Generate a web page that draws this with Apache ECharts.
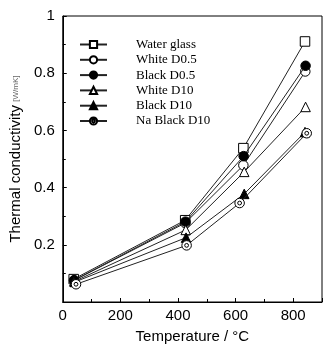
<!DOCTYPE html>
<html><head><meta charset="utf-8">
<script src="https://cdn.jsdelivr.net/npm/echarts@6/dist/echarts.min.js"></script>
<style>html,body{margin:0;padding:0;background:#fff}#c{width:323px;height:349px}</style>
</head><body><div id="c"></div>
<script>
var seriesNames = ['Water glass','White D0.5','Black D0.5','White D10','Black D10','Na Black D10'];
var temps = [
  [38, 425, 627, 841],
  [40, 425, 627, 842],
  [39, 426, 628, 843],
  [40, 427, 630, 843],
  [42, 428, 630, 841],
  [46, 430, 614, 847]
];
var conductivity = [
  [0.080, 0.286, 0.538, 0.911],
  [0.076, 0.276, 0.478, 0.806],
  [0.076, 0.281, 0.510, 0.826],
  [0.072, 0.252, 0.455, 0.682],
  [0.070, 0.225, 0.378, 0.594],
  [0.062, 0.198, 0.346, 0.590]
];
var xTicks = [0, 200, 400, 600, 800];
var yTicks = [0.2, 0.4, 0.6, 0.8, 1];

var dblCircle = 'path://M0,-5A5,5 0 1,1 0,5A5,5 0 1,1 0,-5ZM0,-2A2,2 0 1,1 0,2A2,2 0 1,1 0,-2Z';
var symbols = ['rect','circle','circle','triangle','triangle',dblCircle];
var fills = ['#fff','#fff','#000','#fff','#000','#fff'];

var series = seriesNames.map(function(n,i){
  return {
    name:n, type:'line',
    data: temps[i].map(function(t,j){return [t, conductivity[i][j]];}),
    symbol: symbols[i], symbolSize: 9.5,
    itemStyle:{color:fills[i], borderColor:'#000', borderWidth:1},
    lineStyle:{color:'#222', width:1},
    z: 2 + i
  };
});

var chart = echarts.init(document.getElementById('c'));
chart.setOption({
  animation:false,
  grid:{left:60, right:1, top:16, bottom:44, show:true, borderColor:'#000', borderWidth:1},
  legend:{
    orient:'vertical', left:79, top:37, padding:0, itemWidth:27, itemHeight:9, itemGap:0.3,
    textStyle:{fontFamily:'Liberation Serif', fontSize:13, color:'#000', lineHeight:15, padding:[0,0,0,24]},
    data: seriesNames
  },
  xAxis:{
    type:'value', min:0, max:900, interval:200,
    name:'Temperature / °C', nameLocation:'middle', nameGap:27,
    nameTextStyle:{fontFamily:'Liberation Sans', fontSize:15, color:'#000'},
    axisLine:{lineStyle:{color:'#000'}},
    axisTick:{inside:true, length:4, lineStyle:{color:'#000'}},
    minorTick:{show:true, splitNumber:2, length:3, lineStyle:{color:'#000'}},
    splitLine:{show:false},
    axisLabel:{fontFamily:'Liberation Sans', fontSize:15, color:'#000', margin:6, showMaxLabel:false,
      formatter:function(v){return xTicks.indexOf(v)>=0 ? String(v) : '';}}
  },
  yAxis:{
    type:'value', min:0, max:1, interval:0.2,
    name:'{a|Thermal conductivity} {b|[W/mK]}', nameLocation:'middle', nameGap:22, nameRotate:90,
    nameTextStyle:{rich:{
      a:{fontFamily:'Liberation Sans', fontSize:15, color:'#000'},
      b:{fontFamily:'Liberation Sans', fontSize:8, color:'#666'}
    }},
    axisLine:{lineStyle:{color:'#000'}},
    axisTick:{inside:true, length:4, lineStyle:{color:'#000'}},
    minorTick:{show:true, splitNumber:2, length:3, lineStyle:{color:'#000'}},
    splitLine:{show:false},
    axisLabel:{fontFamily:'Liberation Sans', fontSize:15, color:'#000', margin:8, showMinLabel:false,
      formatter:function(v){var r=+v.toFixed(1); return yTicks.indexOf(r)>=0 ? String(r) : '';}}
  },
  series: series
});
</script></body></html>
